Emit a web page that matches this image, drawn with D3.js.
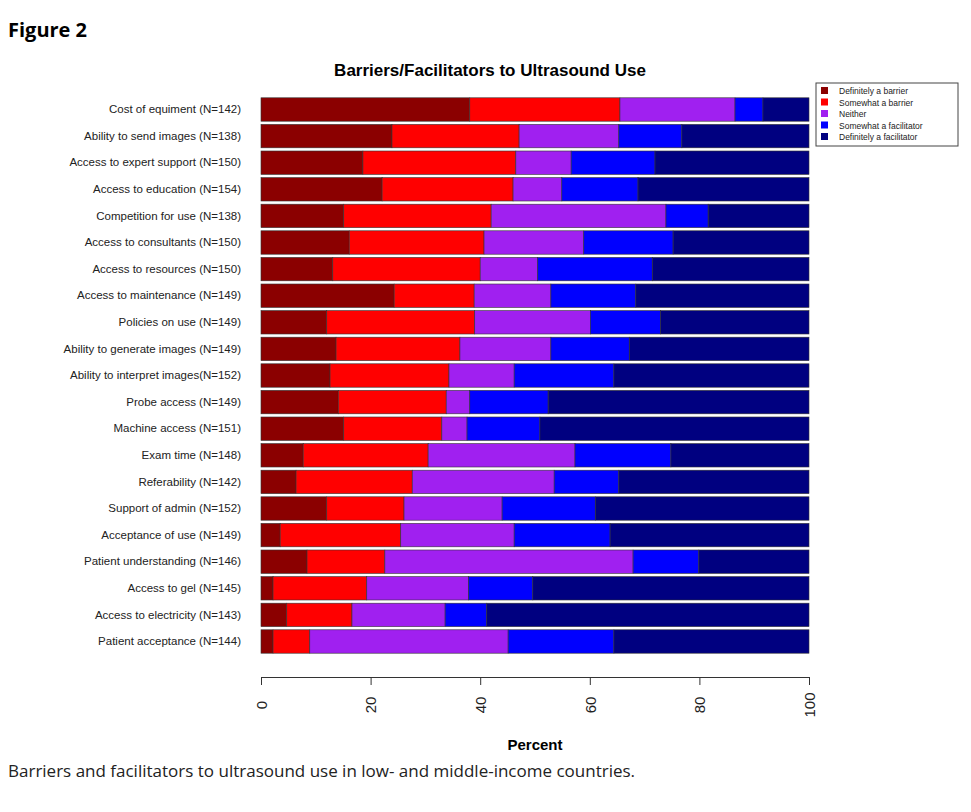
<!DOCTYPE html>
<html><head><meta charset="utf-8">
<script src="https://cdn.jsdelivr.net/npm/d3@7"></script>
<style>body{margin:0;background:#fff;font-family:"Open Sans","Noto Sans",sans-serif;}</style>
</head><body>
<svg id="c" width="971" height="812"></svg>
<script>
const categories = ["Cost of equiment (N=142)","Ability to send images (N=138)","Access to expert support (N=150)","Access to education (N=154)","Competition for use (N=138)","Access to consultants (N=150)","Access to resources (N=150)","Access to maintenance (N=149)","Policies on use (N=149)","Ability to generate images (N=149)","Ability to interpret images(N=152)","Probe access (N=149)","Machine access (N=151)","Exam time (N=148)","Referability (N=142)","Support of admin (N=152)","Acceptance of use (N=149)","Patient understanding (N=146)","Access to gel (N=145)","Access to electricity (N=143)","Patient acceptance (N=144)"];
const seriesNames = ["Definitely a barrier","Somewhat a barrier","Neither","Somewhat a facilitator","Definitely a facilitator"];
const definitelyBarrier = [38.1,23.9,18.6,22.1,15.1,16.1,13.1,24.3,12.0,13.7,12.6,14.1,15.1,7.7,6.4,12.0,3.5,8.4,2.2,4.7,2.2];
const somewhatBarrier   = [27.4,23.2,27.9,23.9,26.9,24.6,26.9,14.6,27.0,22.6,21.7,19.7,17.9,22.8,21.2,14.1,22.0,14.2,17.1,11.9,6.7];
const neither           = [21.0,18.2,10.1,8.9,31.9,18.2,10.5,14.0,21.1,16.6,11.9,4.3,4.6,26.8,25.9,17.9,20.7,45.3,18.6,17.0,36.2];
const somewhatFacil     = [5.1,11.5,15.3,13.9,7.7,16.3,20.9,15.5,12.8,14.3,18.2,14.3,13.3,17.5,11.8,17.0,17.5,12.0,11.7,7.6,19.3];
const definitelyFacil   = [8.4,23.2,28.1,31.2,18.4,24.8,28.6,31.6,27.1,32.8,35.6,47.6,49.1,25.2,34.7,39.0,36.3,20.1,50.4,58.8,35.6];
const xTicks = [0,20,40,60,80,100];
const colors = ["#8b0000","#ff0000","#a020f0","#0000ff","#000080"];

const svg = d3.select("#c");
svg.append("text").attr("x",8).attr("y",37).attr("font-size",20).attr("font-weight","bold").text("Figure 2");
svg.append("text").attr("x",490).attr("y",76).attr("text-anchor","middle").attr("font-family","Liberation Sans, Arial").attr("font-size",17).attr("font-weight","bold").text("Barriers/Facilitators to Ultrasound Use");

const x = d3.scaleLinear().domain([0,100]).range([261,809]);
const y = d3.scaleBand().domain(categories).range([97,654]).paddingInner(0.12).paddingOuter(0.03);
const data = categories.map((c,i)=>({cat:c,v:[definitelyBarrier[i],somewhatBarrier[i],neither[i],somewhatFacil[i],definitelyFacil[i]]}));
const rows = data.map(d=>{const s=d3.sum(d.v);let acc=0;return {cat:d.cat,segs:d.v.map((v,k)=>{const a=acc;acc+=v/s*100;return {k,a,b:acc};})};});
const g = svg.append("g");
rows.forEach(r=>{
  g.selectAll(null).data(r.segs).enter().append("rect")
   .attr("x",s=>x(s.a)).attr("width",s=>x(s.b)-x(s.a))
   .attr("y",y(r.cat)).attr("height",y.bandwidth())
   .attr("fill",s=>colors[s.k]).attr("stroke","#333").attr("stroke-width",0.6);
});
svg.append("g").attr("transform","translate(250,0)")
  .call(d3.axisLeft(y).tickSize(0).tickPadding(9))
  .call(a=>a.select(".domain").remove())
  .selectAll("text").attr("font-family","Liberation Sans, Arial").attr("font-size",11.5).attr("fill","#222");

const ax = svg.append("g").attr("transform","translate(0,677)")
  .call(d3.axisBottom(x).tickValues(xTicks).tickSize(8).tickFormat(d3.format("d")));
ax.selectAll("path,line").attr("stroke","#333");
ax.selectAll("text").attr("font-family","Liberation Sans, Arial").attr("font-size",15).attr("fill","#222")
  .attr("transform","rotate(-90)").attr("text-anchor","middle").attr("x",-28).attr("y",0).attr("dy","0.35em");
svg.append("text").attr("x",535).attr("y",750).attr("text-anchor","middle").attr("font-family","Liberation Sans, Arial").attr("font-size",15).attr("font-weight","bold").text("Percent");

const lg = svg.append("g");
lg.append("rect").attr("x",816).attr("y",83).attr("width",142).attr("height",63).attr("fill","#fff").attr("stroke","#444");
seriesNames.forEach((n,i)=>{
  lg.append("rect").attr("x",821).attr("y",87+i*11.5).attr("width",7).attr("height",7).attr("fill",colors[i]);
  lg.append("text").attr("x",839).attr("y",94+i*11.5).attr("font-family","Liberation Sans, Arial").attr("font-size",8.5).attr("fill","#222").text(n);
});
svg.append("text").attr("x",8).attr("y",777).attr("font-size",17).attr("fill","#222").text("Barriers and facilitators to ultrasound use in low- and middle-income countries.");
</script>
</body></html>
